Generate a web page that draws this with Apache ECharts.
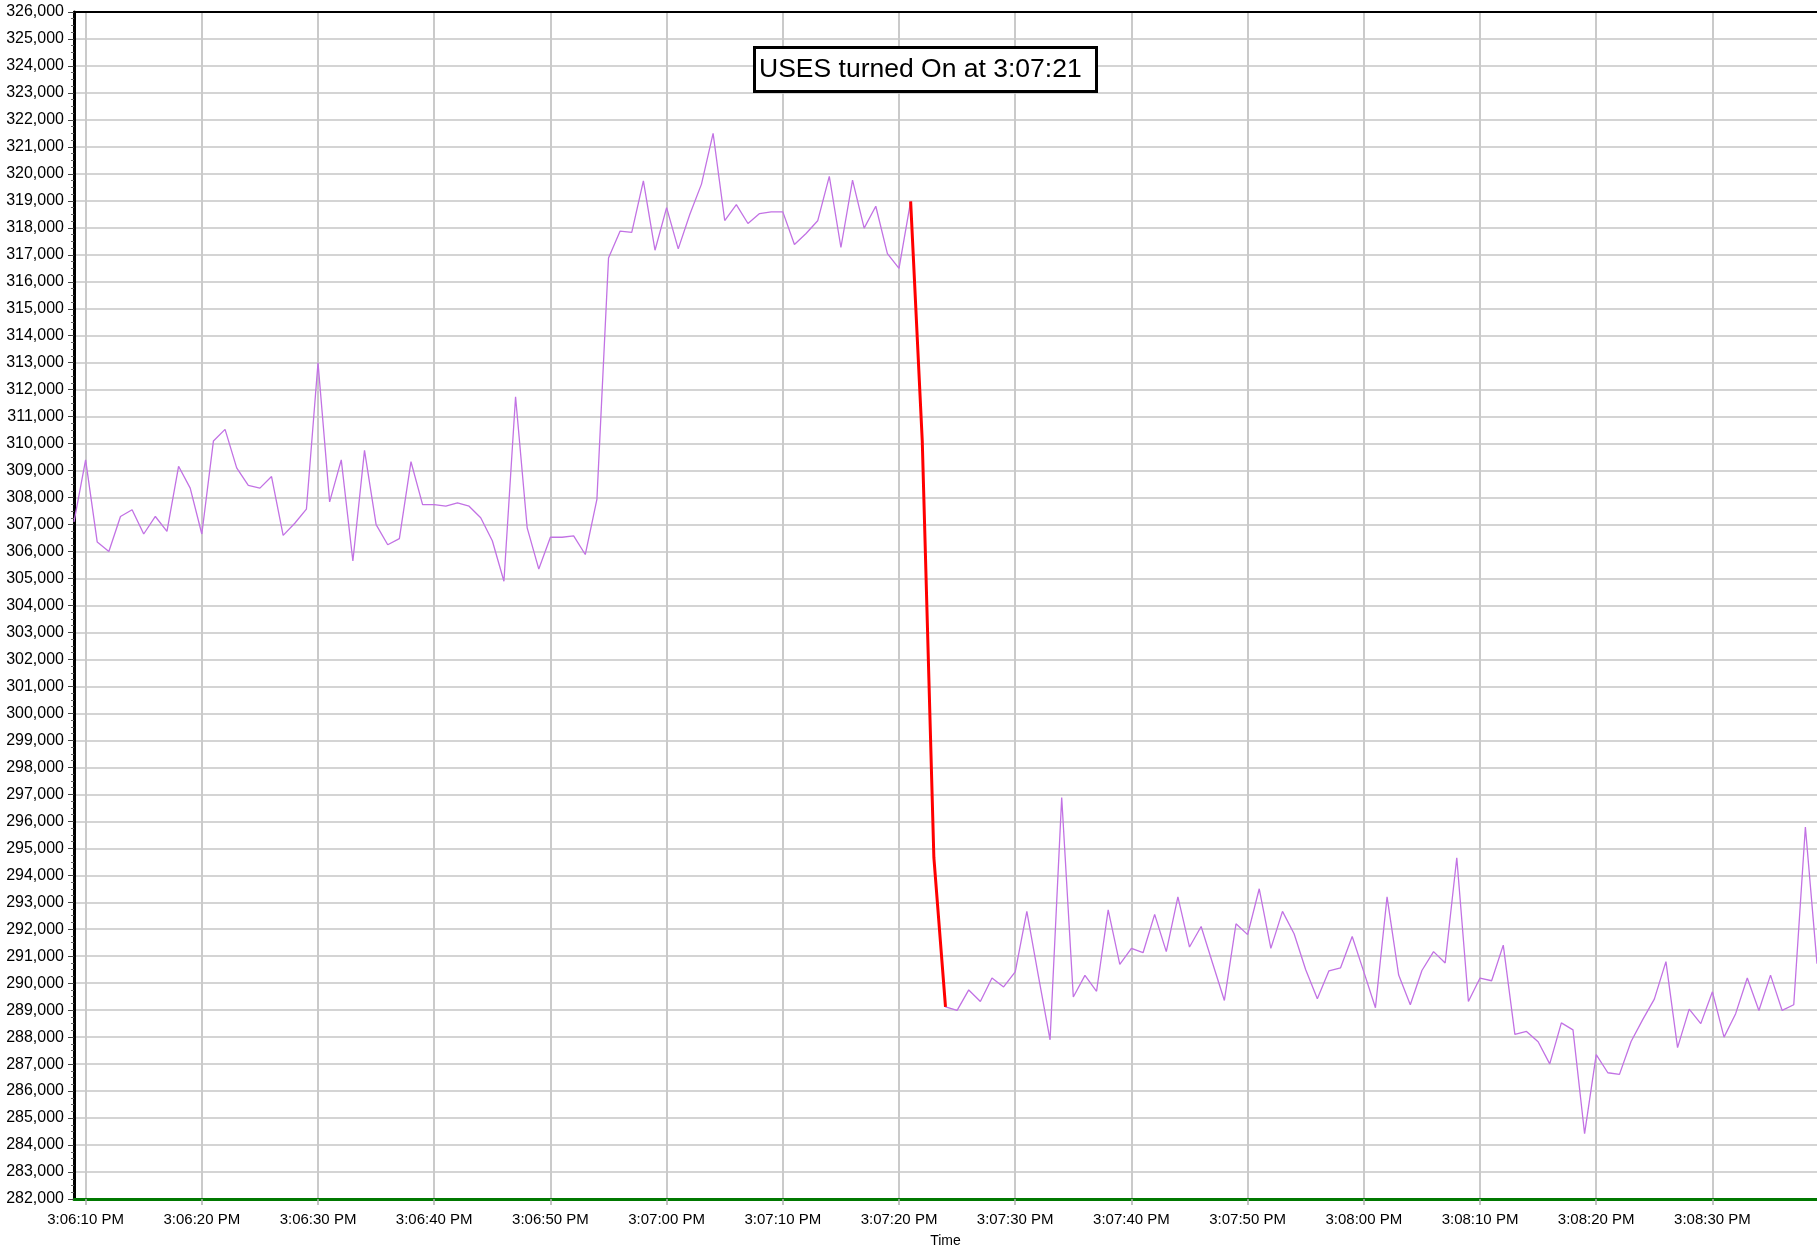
<!DOCTYPE html>
<html>
<head>
<meta charset="utf-8">
<title>USES turned On</title>
<script src="https://cdn.jsdelivr.net/npm/echarts@6/dist/echarts.min.js"></script>
<style>
  html, body { margin: 0; padding: 0; background: #fff; }
  #chart { width: 1817px; height: 1248px; }
</style>
</head>
<body>
<div id="chart"></div>
<script>
// one sample per second, starting 3:06:09 PM
var startTime = '3:06:09 PM'
var values = [
  307100, 309400, 306350, 306000, 307300, 307550, 306650, 307300, 306750, 309160,
  308350, 306650, 310100, 310530, 309100, 308450, 308350, 308780, 306600, 307050,
  307570, 313000, 307840, 309400, 305650, 309750, 307000, 306250, 306480, 309330,
  307740, 307740, 307680, 307800, 307680, 307250, 306400, 304900, 311740, 306880,
  305350, 306530, 306530, 306580, 305890, 307930, 316880, 317880, 317830, 319740,
  317170, 318750, 317220, 318500, 319620, 321500, 318270, 318860, 318160, 318530,
  318590, 318590, 317380, 317790, 318260, 319910, 317270, 319770, 317990, 318800,
  317040, 316500, 318980, 310100, 294650, 289120, 288990, 289750, 289320, 290190,
  289860, 290420, 292660, 290250, 287900, 296880, 289490, 290290, 289700, 292720,
  290700, 291290, 291130, 292550, 291170, 293200, 291340, 292100, 290720, 289360,
  292200, 291800, 293500, 291290, 292660, 291830, 290500, 289420, 290460, 290570,
  291730, 290420, 289090, 293200, 290300, 289200, 290470, 291170, 290750, 294650,
  289320, 290190, 290090, 291410, 288100, 288210, 287830, 287010, 288530, 288270,
  284420, 287350, 286680, 286620, 287840, 288650, 289410, 290800, 287610, 289040,
  288500, 289680, 288000, 288870, 290190, 288990, 290300, 288990, 289200, 295790,
  290720
]
// the part drawn in red: from the switch-on moment until the drop settles
var redFrom = '3:07:21 PM'
var redTo = '3:07:24 PM'
var yMin = 282000
var yMax = 326000
var yStep = 1000
var noteText = 'USES turned On at 3:07:21'

function toSec(t) {
  var p = t.split(' ')[0].split(':')
  var h = +p[0]
  if (t.indexOf('PM') > 0 && h < 12) h += 12
  return h * 3600 + (+p[1]) * 60 + (+p[2])
}
function toLabel(s) {
  var h = Math.floor(s / 3600), m = Math.floor(s / 60) % 60, sec = s % 60
  var ap = h >= 12 ? 'PM' : 'AM'
  h = h % 12 || 12
  return h + ':' + (m < 10 ? '0' : '') + m + ':' + (sec < 10 ? '0' : '') + sec + ' ' + ap
}

var s0 = toSec(startTime)
var times = values.map(function (v, i) { return toLabel(s0 + i) })
var i0 = times.indexOf(redFrom)
var i1 = times.indexOf(redTo)
var redValues = values.map(function (v, i) { return (i >= i0 && i <= i1) ? v : null })

function onTen(idx) { return (s0 + idx) % 10 === 0 }

var font = '"Liberation Sans", Arial, sans-serif'

var chart = echarts.init(document.getElementById('chart'))
var option = {
  animation: false,
  backgroundColor: '#fff',
  textStyle: { fontFamily: font },
  title: {
    text: noteText,
    left: 754,
    top: 47,
    padding: [8, 15, 7, 5],
    borderColor: '#000',
    borderWidth: 3,
    backgroundColor: '#fff',
    textStyle: { fontFamily: font, fontSize: 26.5, fontWeight: 'normal', color: '#000', lineHeight: 30 }
  },
  grid: { left: 74, right: 0, top: 12, bottom: 49, outerBoundsMode: 'none' },
  xAxis: [{
    type: 'category',
    data: times,
    boundaryGap: false,
    name: 'Time',
    nameLocation: 'middle',
    nameGap: 35,
    nameTextStyle: { fontFamily: font, fontSize: 14, color: '#000' },
    axisLine: { lineStyle: { color: '#007800', width: 3 } },
    axisTick: { interval: onTen, length: 6, lineStyle: { color: '#b0b0b0', width: 1.5 } },
    axisLabel: { interval: onTen, margin: 13, fontSize: 15, color: '#000', fontFamily: font },
    splitLine: { show: true, interval: onTen, lineStyle: { color: '#cacaca', width: 2 } }
  }, {
    type: 'category',
    data: times,
    position: 'top',
    boundaryGap: false,
    axisLine: { lineStyle: { color: '#000', width: 2 } },
    axisTick: { show: false },
    axisLabel: { show: false },
    splitLine: { show: false }
  }],
  yAxis: {
    type: 'value',
    min: yMin,
    max: yMax,
    interval: yStep,
    axisLine: { show: true, lineStyle: { color: '#000', width: 3 } },
    axisTick: { show: true, length: 6, lineStyle: { color: '#444' } },
    minorTick: { show: true, splitNumber: 4, length: 3, lineStyle: { color: '#666' } },
    axisLabel: {
      margin: 10,
      fontSize: 16,
      color: '#000',
      fontFamily: font,
      formatter: function (v) { return v.toLocaleString('en-US') }
    },
    splitLine: { lineStyle: { color: '#c6c6c6', width: 1.5 } }
  },
  series: [{
    name: 'value',
    type: 'line',
    data: values,
    showSymbol: false,
    lineStyle: { color: '#c272e4', width: 1.3 }
  }, {
    name: 'drop',
    type: 'line',
    data: redValues,
    showSymbol: false,
    lineStyle: { color: '#ff0000', width: 3 }
  }]
}
chart.setOption(option)
</script>
</body>
</html>
